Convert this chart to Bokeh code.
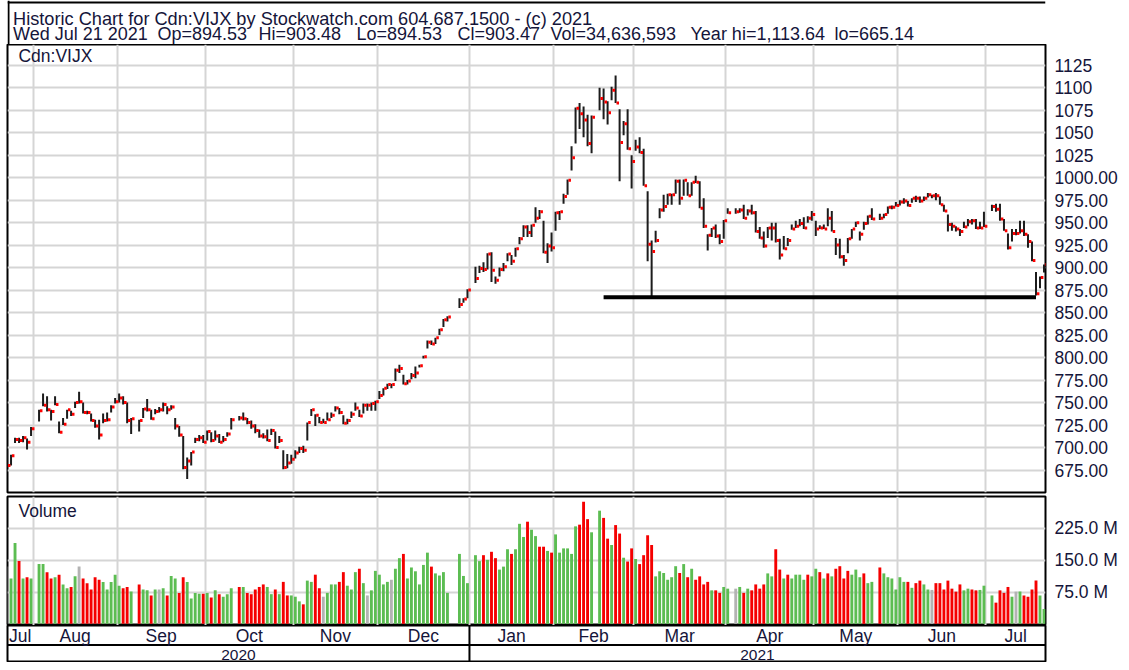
import numpy as np
import pandas as pd
from bokeh.plotting import figure
from bokeh.layouts import column
from bokeh.models import Range1d, FixedTicker, ColumnDataSource, Label, CustomJSTickFormatter
from bokeh.core.properties import value
from bokeh.embed import file_html
from bokeh.resources import INLINE

# ---------------- data ----------------
origin = "2020-07-22"          # weekday index 0
first_day = "2020-07-23"
last_day = "2021-07-21"
holidays = ["2020-08-03", "2020-09-07", "2020-10-12", "2020-12-25", "2020-12-28",
            "2021-01-01", "2021-02-15", "2021-04-02", "2021-05-24", "2021-07-01"]

highs = (
    [697, 692, 711, 711, 713, 710, 723] +
    [742, 760, 757, 742, 757, 729, 733, 742, 741, 751, 762, 750, 741, 738, 731, 731, 738, 739, 747, 755] +
    [760, 757, 750, 733, 731, 744, 754, 742, 743, 745, 750, 746, 747, 733, 724, 713, 689, 695, 711, 714, 714] +
    [719, 717, 719, 715, 713, 717, 733, 735, 739, 733, 730, 726, 720, 716, 720, 721, 718, 713, 697, 693, 692] +
    [697, 701, 702, 728, 743, 737, 734, 732, 739, 739, 746, 744, 736, 732, 740, 750, 742, 749, 749, 750, 752] +
    [763, 766, 771, 771, 788, 792, 781, 775, 783, 790, 792, 802, 819, 819, 822, 832, 843, 846, 866, 866, 876] +
    [901, 902, 906, 916, 917, 890, 900, 905, 916, 914, 922, 934, 947, 947, 948, 967, 964, 952, 927, 939] +
    [962, 963, 982, 998, 1035, 1078, 1083, 1079, 1070, 1069, 1100, 1099, 1085, 1101, 1113.6, 1076, 1063, 1076, 1025] +
    [1042, 1045, 1032, 985, 930, 941, 966, 981, 982, 982, 998, 998, 998, 995, 995, 1002, 996, 977, 937, 944, 948, 937, 953] +
    [966, 966, 966, 970, 965, 970, 963, 945, 940, 945, 950, 950, 932, 935, 933, 948, 952, 954, 956, 957, 963] +
    [952, 947, 948, 966, 963, 933, 932, 914, 933, 943, 951, 940, 951, 958, 966, 960, 960, 968, 969, 973] +
    [975, 977, 974, 977, 980, 979, 979, 983, 981, 983, 979, 970, 959, 950, 946, 943, 951, 954, 954, 954, 951, 962] +
    [970, 971, 971, 954, 938, 943, 943, 952, 952, 937, 929, 895, 890, 903.48]
)
lows = (
    [678, 680, 705, 705, 706, 698, 713] +
    [729, 746, 740, 730, 747, 716, 725, 732, 735, 744, 749, 738, 737, 729, 722, 709, 727, 729, 739, 749] +
    [750, 748, 727, 715, 718, 733, 740, 731, 737, 739, 740, 737, 742, 720, 712, 676, 665.1, 680, 705, 707, 705] +
    [708, 706, 708, 705, 706, 712, 720, 730, 730, 726, 721, 716, 711, 710, 707, 714, 699, 705, 676, 677, 682] +
    [688, 694, 694, 708, 735, 724, 727, 727, 730, 733, 740, 737, 726, 726, 733, 741, 734, 738, 741, 741, 741] +
    [754, 758, 765, 766, 774, 783, 770, 770, 776, 777, 789, 799, 810, 814, 815, 825, 834, 840, 855, 861, 866] +
    [883, 894, 895, 898, 884, 882, 890, 896, 907, 903, 912, 926, 934, 934, 934, 950, 954, 916, 905, 918] +
    [941, 953, 971, 981, 1008, 1038, 1054, 1045, 1035, 1027, 1075, 1065, 1059, 1086, 1083, 996, 1047, 1031, 988] +
    [1030, 1027, 991, 907, 868, 928, 955, 962, 970, 970, 982, 970, 980, 980, 980, 994, 966, 944, 919, 934, 933, 926, 932] +
    [960, 960, 961, 954, 958, 959, 939, 932, 922, 933, 930, 928, 909, 920, 924, 942, 944, 946, 943, 950, 952] +
    [935, 943, 943, 946, 940, 914, 910, 902, 916, 932, 945, 930, 942, 948, 953, 953, 955, 960, 965, 968] +
    [969, 971, 968, 972, 973, 972, 974, 978, 977, 975, 970, 962, 940, 941, 940, 935, 944, 946, 948, 943, 943, 945] +
    [963, 962, 952, 941, 920, 929, 936, 938, 935, 922, 907, 869, 877, 894.53]
)
closes = (
    [680, 691, 709, 708, 711, 706, 721] +
    [741, 747, 742, 740, 748, 717, 726, 742, 737, 750, 751, 739, 739, 730, 724, 714, 730, 731, 745, 751] +
    [755, 750, 730, 732, 730, 743, 742, 732, 740, 742, 748, 742, 745, 724, 714, 678, 685, 695, 709, 711, 706] +
    [718, 708, 713, 706, 709, 715, 731, 733, 732, 728, 724, 719, 713, 712, 708, 719, 700, 708, 678, 683, 687] +
    [694, 699, 697, 728, 742, 736, 728, 728, 731, 736, 744, 739, 727, 730, 737, 744, 735, 747, 747, 749, 751] +
    [758, 766, 770, 770, 786, 788, 771, 774, 780, 783, 791, 801, 817, 815, 822, 831, 842, 845, 859, 865, 875] +
    [888, 899, 898, 915, 897, 886, 898, 901, 915, 907, 921, 932, 945, 939, 947, 955, 962, 917, 924, 922] +
    [961, 962, 979, 997, 1022, 1077, 1071, 1064, 1038, 1067, 1088, 1084, 1072, 1097, 1083, 1039, 1060, 1032, 1018] +
    [1034, 1028, 991, 926, 918, 930, 964, 968, 981, 981, 996, 977, 997, 980, 995, 995, 966, 946, 936, 944, 935, 929, 952] +
    [961, 962, 964, 955, 963, 961, 940, 933, 924, 944, 944, 930, 914, 921, 930, 943, 946, 949, 944, 955, 959] +
    [943, 944, 943, 955, 940, 925, 912, 908, 932, 943, 950, 937, 949, 957, 954, 955, 959, 967, 967, 969] +
    [973, 974, 969, 977, 977, 974, 977, 981, 980, 980, 970, 963, 948, 946, 943, 940, 945, 951, 952, 944, 944, 946] +
    [968, 965, 954, 941, 922, 938, 938, 941, 937, 929, 908, 871, 889, 903.47]
)
volumes_m = (
    [135, 107, 191, 148, 107, 110, 107] +
    [141, 141, 122, 107, 110, 116, 93, 84, 87, 112, 135, 107, 96, 81, 110, 104, 99, 81, 99, 116] +
    [90, 84, 87, 76, 93, 81, 79, 67, 81, 81, 84, 67, 113, 107, 73, 110, 99, 60, 73, 71, 71] +
    [73, 62, 79, 70, 64, 70, 84, 87, 87, 73, 70, 81, 87, 93, 87, 70, 81, 70, 99, 67, 67] +
    [64, 53, 46, 102, 99, 116, 84, 64, 73, 93, 93, 99, 122, 90, 81, 122, 130, 96, 67, 79, 125] +
    [116, 93, 99, 104, 130, 155, 165, 107, 133, 124, 93, 139, 168, 135, 119, 114, 122, 73, 165, 113, 96] +
    [162, 148, 162, 151, 170, 155, 128, 135, 176, 165, 176, 236, 205, 241, 222, 207, 182, 182, 172, 168] +
    [211, 168, 178, 178, 165, 230, 234, 288, 247, 216, 267, 250, 201, 186, 233, 213, 156, 147, 178] +
    [153, 141, 162, 209, 186, 112, 124, 120, 104, 110, 136, 120, 141, 110, 130, 104, 112, 93, 99, 79, 79, 73, 87] +
    [83, 83, 87, 73, 83, 79, 93, 83, 93, 119, 112, 176, 128, 107, 116, 107, 116, 116, 104, 116, 112] +
    [130, 122, 107, 119, 112, 130, 136, 107, 125, 116, 128, 110, 119, 96, 99, 133, 119, 110, 107, 81] +
    [110, 99, 99, 85, 96, 102, 93, 81, 80, 96, 96, 81, 102, 83, 76, 93, 79, 83, 81, 79, 80, 90] +
    [67, 50, 79, 73, 87, 64, 76, 76, 67, 64, 81, 102, 67, 35]
)
# g = up, r = down, n = unchanged
volume_dir = ("nggrgrg" + "ggrrgrggrgnrrrrrgggg" + "grrgrggrgngrggrrggggr" +
              "grgrgggrgrrrrrggrgrrg" + "ggrggrrngggrrgggrgngg" + "gggnggrggggggrggggggg" +
              "ggrgrrgggrgggrggrrgr" + "ggggggrrrggrrgrrgrr" + "grrrrggggggrgrgrrrrgrrg" +
              "gngrgrrrrggrrgrggggrg" + "grgrgrrrrgggrggrgggg" + "ggrgrrggnrrrrrrrggrrgg" +
              "grrrrgngrrrrgg")

month_names = ["Jul", "Aug", "Sep", "Oct", "Nov", "Dec", "Jan", "Feb", "Mar", "Apr", "May", "Jun", "Jul"]
year_names = ["2020", "2021"]
price_ticks = [675, 700, 725, 750, 775, 800, 825, 850, 875, 900, 925, 950, 975, 1000,
               1025, 1050, 1075, 1100, 1125]
volume_ticks = [75, 150, 225]
support_level = 867
support_from = "2021-02-17"
support_to = "2021-07-19"

title_line = "Historic Chart for Cdn:VIJX by Stockwatch.com 604.687.1500 - (c) 2021"
info_items = ["Wed Jul 21 2021", "Op=894.53", "Hi=903.48", "Lo=894.53", "Cl=903.47",
              "Vol=34,636,593", "Year hi=1,113.64", "lo=665.14"]
symbol = "Cdn:VIJX"

# ---------------- derived positions ----------------
dates = [d for d in pd.bdate_range(first_day, last_day) if d.strftime("%Y-%m-%d") not in holidays]
day_arr = np.array([d.strftime("%Y-%m-%d") for d in dates], dtype="datetime64[D]")
kx = np.busday_count(np.datetime64(origin), day_arr).astype(float)
n = len(kx)
assert len(highs) == n and len(lows) == n and len(closes) == n
assert len(volumes_m) == n and len(volume_dir) == n

ms = pd.date_range("2020-08-01", "2021-07-01", freq="MS").strftime("%Y-%m-%d")
first_wd = np.busday_offset(np.array(ms, dtype="datetime64[D]"), 0, roll="forward")
bounds = (np.busday_count(np.datetime64(origin), first_wd) - 0.5).tolist()

# horizontal scale (in reference pixels): px = 2.5 + 4.025 * weekday
def kpx(px):
    return (px - 2.5) / 4.025

XS, XE = kpx(7), kpx(1050.5)
edges = [XS] + bounds + [XE]
m_centers = [(a + b) / 2 for a, b in zip(edges[:-1], edges[1:])]
yb = bounds[5]
y_centers = [(XS + yb) / 2, (yb + XE) / 2]

colmap = {"g": "#5cbd52", "r": "#f50000", "n": "#b3b3b3"}
src = ColumnDataSource(dict(
    k=kx, high=highs, low=lows, close=closes,
    t0=kx + 0.22, t1=kx + 0.85,
    vol=volumes_m, color=[colmap[c] for c in volume_dir]))

FONT = "Liberation Sans"
TXT = "#15153a"
FS = "17.5px"
W = 1121
FL, FR = 7, 1045           # frame left / right inside the layout
GRID = "#d5d5d5"

def base_fig(h, xr, yr, top, bottom, right_axis):
    f = figure(width=W, height=h, x_range=xr, y_range=yr, output_backend="svg",
               toolbar_location=None, x_axis_location=None,
               y_axis_location="right" if right_axis else None,
               min_border_left=FL, min_border_right=W - FR,
               min_border_top=top, min_border_bottom=bottom)
    f.outline_line_color = "black"
    f.outline_line_width = 2
    f.background_fill_color = "white"
    f.border_fill_color = "white"
    return f

def style_axis(ax, code):
    ax.formatter = CustomJSTickFormatter(code=code)
    ax.axis_line_color = None
    ax.major_tick_line_color = None
    ax.minor_tick_line_color = None
    ax.major_tick_out = 0
    ax.major_tick_in = 0
    ax.major_label_standoff = 9
    ax.major_label_text_font = FONT
    ax.major_label_text_font_size = FS
    ax.major_label_text_color = TXT

# ---------------- header (frame aligned with the panels; data units = pixels) ----------------
hdr = base_fig(44, Range1d(FL, FR), Range1d(0, 44), 0, 0, False)
hdr.outline_line_color = None
hdr.xgrid.visible = False
hdr.ygrid.visible = False
hdr.segment(x0=[FL, FL + 1], y0=[42, 0], x1=[FR, FL + 1], y1=[42, 44],
            line_color="black", line_width=2)
hdr.add_layout(Label(x=12.5, y=44 - 18.0, text=title_line, text_font=FONT,
                     text_font_size="18.2px", text_color=TXT, text_baseline="middle"))
info_x = [12.5, 157, 258, 356, 457, 550, 690, 834]
for tx, s in zip(info_x, info_items):
    hdr.add_layout(Label(x=tx, y=44 - 33.5, text=s, text_font=FONT,
                         text_font_size="18px", text_color=TXT, text_baseline="middle"))

# ---------------- price ----------------
def price_at(py):           # reference pixel row -> price
    return 1125 - (py - 65) / 0.9149

pf = base_fig(450, Range1d(XS, XE), Range1d(price_at(499.5), price_at(44)), 0, 2, True)
pf.yaxis.ticker = FixedTicker(ticks=price_ticks)
style_axis(pf.yaxis[0], "return tick >= 1025 ? tick.toFixed(0) : tick.toFixed(2);")
pf.ygrid.grid_line_color = GRID
pf.ygrid.grid_line_width = 2
pf.xgrid.ticker = FixedTicker(ticks=bounds)
pf.xgrid.grid_line_color = GRID
pf.xgrid.grid_line_width = 2

pf.segment(x0="k", y0="low", x1="k", y1="high", source=src, line_color="#1c1c1c", line_width=2)
pf.segment(x0="t0", y0="close", x1="t1", y1="close", source=src, line_color="#ff0000", line_width=3)

s0 = float(np.busday_count(np.datetime64(origin), np.datetime64(support_from)))
s1 = float(np.busday_count(np.datetime64(origin), np.datetime64(support_to)))
pf.segment(x0=[s0], y0=[support_level], x1=[s1], y1=[support_level], line_color="black", line_width=4)

pf.add_layout(Label(x=kpx(18), y=price_at(55.5), text=symbol, text_font=FONT,
                    text_font_size=FS, text_color=TXT, text_baseline="middle"))

# ---------------- volume ----------------
def vol_at(py):             # reference pixel row -> volume (M)
    return (632.3 - py) * 75 / 32.4

vf = base_fig(131, pf.x_range, Range1d(vol_at(634), vol_at(502.5)), 2, 0, True)
vf.yaxis.ticker = FixedTicker(ticks=volume_ticks)
style_axis(vf.yaxis[0], "return tick.toFixed(1) + ' M';")
vf.ygrid.grid_line_color = GRID
vf.ygrid.grid_line_width = 2
vf.xgrid.ticker = FixedTicker(ticks=bounds)
vf.xgrid.grid_line_color = GRID
vf.xgrid.grid_line_width = 2
vf.vbar(x="k", top="vol", bottom=0, width=0.72, source=src, fill_color="color", line_color=None)
vf.add_layout(Label(x=kpx(18), y=vol_at(517), text="Volume", text_font=FONT,
                    text_font_size=FS, text_color=TXT, text_baseline="middle"))

# ---------------- date rows ----------------
DH = 37
df = base_fig(DH, pf.x_range, Range1d(0, DH), 0, 0, False)
df.xgrid.visible = False
df.ygrid.visible = False
df.segment(x0=[XS], x1=[XE], y0=[17.5], y1=[17.5], line_color="black", line_width=2)
df.segment(x0=[yb], x1=[yb], y0=[0], y1=[DH], line_color="black", line_width=2)
df.text(x=m_centers, y=[26.5] * len(m_centers), text=month_names,
        text_font=value(FONT), text_font_size=value("17.5px"), text_color=TXT,
        text_align="center", text_baseline="middle")
df.text(x=y_centers, y=[8.0] * 2, text=year_names,
        text_font=value(FONT), text_font_size=value("15.5px"), text_color=TXT,
        text_align="center", text_baseline="middle")

layout = column(hdr, pf, vf, df, spacing=0)
open("out.html", "w").write(file_html(layout, INLINE))
